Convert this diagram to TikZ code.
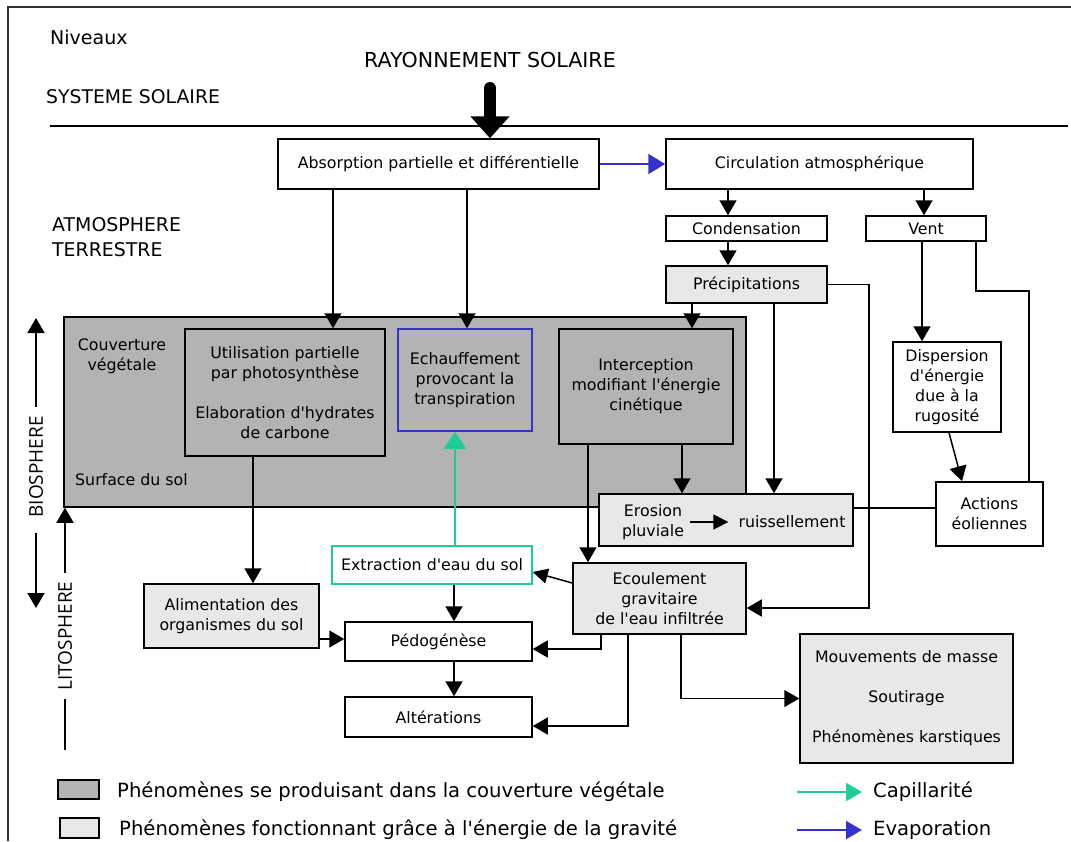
\documentclass[tikz,border=0pt]{standalone}
\usepackage{fontspec}
\setmainfont{DejaVu Sans}
\newfontfamily\niveaufont{Open Sans}
\usetikzlibrary{arrows.meta}
\def\apo{\textquotesingle}
\definecolor{vegetal}{RGB}{179,179,179}
\definecolor{gravite}{RGB}{232,232,232}
\definecolor{evapo}{RGB}{51,51,204}
\definecolor{capil}{RGB}{30,205,150}
\tikzset{
  box/.style={draw, line width=1.5pt, align=center, inner sep=0pt, font=\fontsize{15.8}{20}\selectfont},
  txt/.style={inner sep=0pt, align=center, font=\fontsize{15.8}{20}\selectfont},
  arr/.style={line width=1.5pt, -{Triangle[length=15pt,width=17pt]}},
  lien/.style={line width=1.5pt},
  grand/.style={inner sep=0pt, font=\fontsize{19.6}{25}\selectfont}
}

\begin{document}
\begin{tikzpicture}[x=1pt, y=-1pt]
		%%%%% START %%%%%
		\useasboundingbox (0,0) rectangle (1071,841);
		\draw[line width=1.8pt, black!80] (8,841) -- (8,7) -- (1071,7);
		
		\node[anchor=west, inner sep=0pt, font=\fontsize{19}{22}\selectfont] (niv) at (50,37) {Niveaux};
		\node[inner sep=0pt, font=\fontsize{20.6}{24}\selectfont] (ray) at (490,60) {RAYONNEMENT SOLAIRE};
		\node[anchor=west, inner sep=0pt, font=\fontsize{18.8}{22}\selectfont] (sys) at (46,97) {SYSTEME SOLAIRE};
		\node[anchor=west, inner sep=0pt, align=left, font=\fontsize{18.9}{25}\selectfont] (atm) at (52,237) {ATMOSPHERE\\TERRESTRE};
		\draw[lien] (50,126) -- (1068,126);
		
		% niveau atmospherique
		\node[box, minimum width=321pt, minimum height=50pt] (abs) at (438.5,164) {Absorption partielle et différentielle};
		\node[box, minimum width=307pt, minimum height=50pt] (circ) at (819.5,164) {Circulation atmosphérique};
		\node[box, minimum width=161pt, minimum height=25pt] (cond) at (746.5,228.5) {Condensation};
		\node[box, minimum width=120pt, minimum height=25pt] (vent) at (926,228.5) {Vent};
		\node[box, fill=gravite, minimum width=161pt, minimum height=37pt] (precip) at (746.5,284.5) {Précipitations};
		\draw[line width=12pt, line cap=round, -{Triangle[length=22pt,width=38pt]}] (490,88) -- (abs.north -| 490,0);
		
		% couverture vegetale
		\node[box, fill=vegetal, minimum width=682pt, minimum height=190pt] (couv) at (405,412) {};
		\node[txt] (couvtxt) at (122,356) {Couverture\\végétale};
		\node[txt, anchor=west] (surf) at (75,480) {Surface du sol};
		\node[box, fill=vegetal, minimum width=200pt, minimum height=127pt] (util) at (285,392.5) {Utilisation partielle\\par photosynthèse\\[20pt]Elaboration d\apo hydrates\\de carbone};
		\node[box, draw=evapo, fill=vegetal, minimum width=134pt, minimum height=102pt] (echauf) at (465,380) {Echauffement\\provocant la\\transpiration};
		\node[box, fill=vegetal, minimum width=174pt, minimum height=115pt] (interc) at (646,386.5) {Interception\\modifiant l\apo énergie\\cinétique};
		
		\node[box, minimum width=108pt, minimum height=90pt] (disp) at (947,387) {Dispersion\\d\apo énergie\\due à la\\rugosité};
		\node[box, minimum width=107pt, minimum height=64pt] (actions) at (989.5,514) {Actions\\éoliennes};
		\node[box, fill=gravite, minimum width=254pt, minimum height=52pt] (eros) at (726,520) {};
		\node[txt] (erotxt) at (653,522) {Erosion\\pluviale};
		\node[txt] (ruis) at (792,522) {ruissellement};
		
		% sol
		\node[box, draw=capil, minimum width=200pt, minimum height=38pt] (extr) at (432,565) {Extraction d\apo eau du sol};
		\node[box, fill=gravite, minimum width=173pt, minimum height=71pt] (ecoul) at (659.5,598.5) {Ecoulement\\gravitaire\\de l\apo eau infiltrée};
		\node[box, fill=gravite, minimum width=175pt, minimum height=64pt] (alim) at (231.5,616) {Alimentation des\\organismes du sol};
		\node[box, minimum width=187pt, minimum height=39pt] (pedo) at (438.5,641.5) {Pédogénèse};
		\node[box, minimum width=187pt, minimum height=40pt] (alter) at (438.5,717) {Altérations};
		\node[box, fill=gravite, minimum width=213pt, minimum height=129pt] (mouv) at (906.5,698.5) {Mouvements de masse\\[20pt]Soutirage\\[20pt]Phénomènes karstiques};
		
		% fleches
		\draw[line width=1.8pt, evapo, -{Triangle[length=17pt,width=20pt]}] (abs.east) -- (circ.west);
		\draw[arr] (abs.south -| 333,0) -- (util.north -| 333,0);
		\draw[arr] (abs.south -| 467,0) -- (echauf.north -| 467,0);
		\draw[arr] (circ.south -| 728,0) -- (cond.north -| 728,0);
		\draw[arr] (circ.south -| 924,0) -- (vent.north -| 924,0);
		\draw[arr] (cond.south -| 728,0) -- (precip.north -| 728,0);
		\draw[arr] (precip.south -| 692,0) -- (interc.north -| 692,0);
		\draw[arr] (precip.south -| 774,0) -- (eros.north -| 774,0);
		\draw[arr] (precip.east) -- ++(41,0) |- (ecoul.east |- 0,608);
		\draw[arr] (vent.south -| 922,0) -- (disp.north -| 922,0);
		\draw[lien] (vent.south -| 976,0) |- (1029,291) -- (actions.north -| 1029,0);
		\draw[arr] (disp.south -| 949,0) -- (actions.north -| 962,0);
		\draw[lien] (eros.east |- 0,508) -- (actions.west |- 0,508);
		\draw[arr] (interc.south -| 682,0) -- (eros.north -| 682,0);
		\draw[arr] (interc.south -| 588,0) -- (ecoul.north -| 588,0);
		\draw[line width=1.5pt, -{Triangle[length=15pt,width=15pt]}, shorten <=6pt, shorten >=10pt] (erotxt.east) -- (ruis.west);
		\draw[line width=1.5pt, -{Triangle[length=15pt,width=15pt]}] (ecoul.west |- 0,583) -- (extr.east |- 0,572);
		\draw[line width=1.8pt, capil, -{Triangle[length=17pt,width=22pt]}] (extr.north -| 455,0) -- (echauf.south -| 455,0);
		\draw[arr] (util.south -| 253,0) -- (alim.north -| 253,0);
		\draw[arr] (alim.east |- 0,639) -- (pedo.west |- 0,639);
		\draw[arr] (extr.south -| 454,0) -- (pedo.north -| 454,0);
		\draw[arr] (pedo.south -| 454,0) -- (alter.north -| 454,0);
		\draw[arr] (ecoul.south -| 601,0) |- (pedo.east |- 0,649);
		\draw[arr] (ecoul.south -| 628,0) |- (alter.east |- 0,726);
		\draw[arr] (ecoul.south -| 681,0) |- (mouv.west);
		
		% biosphere et litosphere
		\node[rotate=90, inner sep=0pt, font=\niveaufont\fontsize{19}{20}\selectfont] (bio) at (36,467) {BIOSPHERE};
		\node[rotate=90, inner sep=0pt, font=\niveaufont\fontsize{19}{20}\selectfont] (lito) at (65,636) {LITOSPHERE};
		\coordinate (bioH) at (36,318);
		\coordinate (bioB) at (36,608);
		\coordinate (litoB) at (65,750);
		\draw[arr] ([yshift=9pt]bio.east) -- (bioH);
		\draw[arr] ([yshift=-15pt]bio.west) -- (bioB);
		\draw[arr] ([yshift=8pt]lito.east) -- (lito.east |- couv.south);
		\draw[lien] ([yshift=-8pt]lito.west) -- (litoB);
		
		% legende
		\draw[line width=1.5pt, fill=vegetal] (58,780) rectangle (99,799);
		\draw[line width=1.5pt, fill=gravite] (60,818) rectangle (99,838);
		\node[grand, anchor=west] (leg1) at (117,792) {Phénomènes se produisant dans la couverture végétale};
		\node[grand, anchor=west] (leg2) at (119,830) {Phénomènes fonctionnant grâce à l\apo énergie de la gravité};
		\node[grand, anchor=west] (cap) at (873,792) {Capillarité};
		\node[grand, anchor=west] (eva) at (873,830) {Evaporation};
		\coordinate (capD) at (797,792);
		\coordinate (evaD) at (797,830);
		\draw[line width=1.8pt, capil, -{Triangle[length=16pt,width=18pt]}] (capD) -- ([xshift=-11pt]cap.west);
		\draw[line width=1.8pt, evapo, -{Triangle[length=16pt,width=18pt]}] (evaD) -- ([xshift=-11pt]eva.west);
		%%%%% END %%%%%
\end{tikzpicture}
\end{document}
